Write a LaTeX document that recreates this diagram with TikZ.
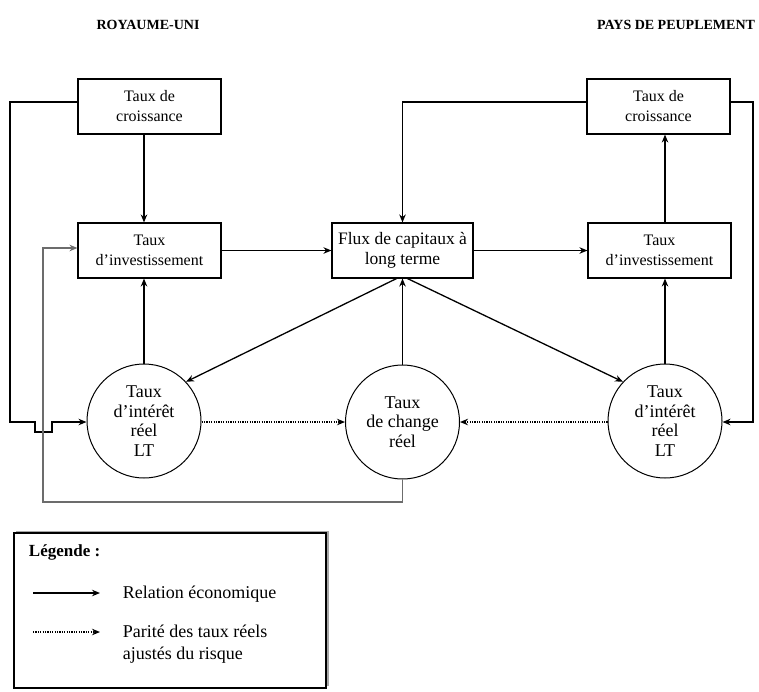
\documentclass[tikz,border=0pt]{standalone}
\usepackage{fontspec}
\setmainfont{Liberation Serif}
\usetikzlibrary{calc,arrows.meta}

\begin{document}
\begin{tikzpicture}[x=1pt,y=-1pt,
  font=\fontsize{16}{20}\selectfont,
  line width=1.3pt,
  >={Stealth[length=8pt,width=6.5pt]},
  boite/.style={draw,rectangle,line width=1.1pt,minimum width=143pt,minimum height=55pt,align=center,inner sep=1pt},
  rond/.style={draw,circle,line width=1pt,minimum size=114pt,align=center,inner sep=0pt,font=\fontsize{18}{19.5}\selectfont},
  parite/.style={->,dash pattern=on 1.2pt off 1.2pt},
  titre/.style={font=\fontsize{14}{17}\selectfont\bfseries}]

\useasboundingbox (0,0) rectangle (759,691);

% titres
\node[titre] (ru) at (148,25) {ROYAUME-UNI};
\node[titre] (pp) at (676,25) {PAYS DE PEUPLEMENT};

% boites
\node[boite] (croisRU) at (149.5,106.5) {Taux de\\croissance};
\node[boite] (invRU) at (149.5,250.5) {Taux\\d’investissement};
\node[boite,minimum width=141pt,font=\fontsize{17.5}{20}\selectfont] (flux) at (402.5,250.5) {Flux de capitaux à\\long terme};
\node[boite] (croisPP) at (658.5,106.5) {Taux de\\croissance};
\node[boite] (invPP) at (659.5,250.5) {Taux\\d’investissement};

% cercles
\node[rond] (intRU) at (144,421) {Taux\\d’intérêt\\réel\\LT};
\node[rond] (change) at (402.5,422) {Taux\\de change\\réel};
\node[rond] (intPP) at (665,421) {Taux\\d’intérêt\\réel\\LT};

% relations
\draw[->] (croisRU.south -| intRU.north) -- (invRU.north -| intRU.north);
\draw[->] (intRU.north) -- (invRU.south -| intRU.north);
\draw[->] (invRU.east) -- (flux.west);
\draw[->] (flux.east) -- (invPP.west);
\draw[->] (invPP.north -| intPP.north) -- (croisPP.south -| intPP.north);
\draw[->] (intPP.north) -- (invPP.south -| intPP.north);
\draw[->] (change.north) -- (flux.south);
\coordinate (h1) at (587,102);
\draw[->] (croisPP.west |- h1) -| (flux.north);
\draw[->] ([xshift=-6pt]flux.south) -- (intRU.43);
\draw[->] ([xshift=5pt]flux.south) -- (intPP.137);

% boucle gauche (avec saut)
\coordinate (g1) at (10,102);
\coordinate (g2) at (10,422);
\coordinate (s1) at (35,422);
\coordinate (s2) at (35,432);
\coordinate (s3) at (52,432);
\coordinate (s4) at (52,422);
\draw[->] (croisRU.west |- g1) -- (g1) -- (g2) -- (s1) -- (s2) -- (s3) -- (s4) -- (intRU.west |- s4);

% boucle grise
\coordinate (b1) at (402.5,502);
\coordinate (b2) at (43,502);
\coordinate (b3) at (43,248);
\draw[->,gray!85!black] (change.south) -- (b1) -- (b2) -- (b3) -- (invRU.west |- b3);

% boucle droite
\coordinate (d1) at (753,102);
\coordinate (d2) at (753,422);
\draw[->] (croisPP.east |- d1) -- (d1) -- (d2) -- (intPP.east |- d2);

% parite
\draw[parite] (intRU.east |- 0,422) -- (change.west);
\draw[parite] (intPP.west |- 0,422) -- (change.east);

% legende
\fill[gray!70] (16,531) rectangle (328.5,686);
\draw[fill=white,line width=1.1pt] (14,533) rectangle (326,688);
\node[font=\fontsize{17}{20}\selectfont\bfseries,anchor=west] (leg) at (25,552) {Légende :};
\coordinate (l1) at (33,593);
\coordinate (l2) at (100,593);
\coordinate (l3) at (33,632);
\coordinate (l4) at (100,632);
\draw[->] (l1) -- (l2);
\draw[parite] (l3) -- (l4);
\node[anchor=west,font=\fontsize{18}{22}\selectfont] (rel) at (119,594) {Relation économique};
\node[anchor=west,align=left,font=\fontsize{18}{22}\selectfont] (par) at (119,644) {Parité des taux réels\\ajustés du risque};

\end{tikzpicture}
\end{document}
